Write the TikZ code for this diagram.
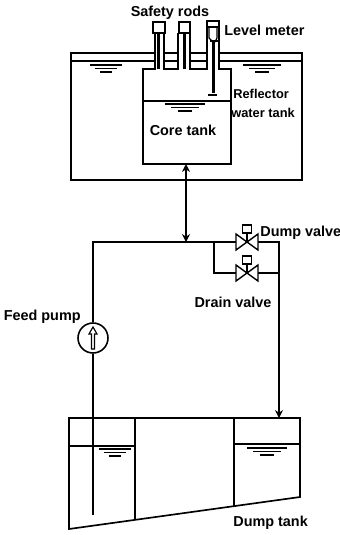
\documentclass[tikz,border=0pt]{standalone}
\usepackage{fontspec}
\setmainfont{Liberation Sans}
\usetikzlibrary{arrows.meta,calc}
\tikzset{
	lab/.style={font=\bfseries\fontsize{8.2}{10}\selectfont,inner sep=0pt},
	small lab/.style={font=\bfseries\fontsize{7.3}{10}\selectfont,inner sep=0pt},
	wall/.style={line width=0.95pt},
	thin wall/.style={line width=0.65pt},
	pipe/.style={line width=1.05pt},
	surf/.style={line width=0.6pt},
	valvebody/.style={line width=0.8pt,fill=white},
}
% one valve with its actuator, centre at (#1)
\newcommand{\valvesym}[1]{
	\draw[valvebody] (#1) -- ++(-11,-8) -- ++(0,16) -- cycle;
	\draw[valvebody] (#1) -- ++(11,-8) -- ++(0,16) -- cycle;
	\draw[thin wall] (#1) -- ++(0,-9);
	\draw[valvebody] ($(#1)+(-4.5,-17)$) rectangle ($(#1)+(4.5,-9)$);
}
% three water surface marks
\newcommand{\surfmarks}[3]{
	\draw[surf] (#1-#3,#2) -- (#1+#3,#2);
	\draw[surf] (#1-0.68*#3,#2+3.5) -- (#1+0.68*#3,#2+3.5);
	\draw[surf] (#1-0.36*#3,#2+7) -- (#1+0.36*#3,#2+7);
}
\begin{document}
\begin{tikzpicture}[x=0.02cm,y=-0.02cm,>={Stealth[length=4.5pt,width=4.5pt]}]
	\useasboundingbox (0,0) rectangle (339,535);
	% reflector water tank
	\draw[wall] (155,53)--(71,53)--(71,180)--(302,180)--(302,53)--(219,53);
	\draw[wall] (164,53)--(178,53) (190,53)--(207,53);
	\draw[thin wall] (71,61)--(155,61) (164,61)--(178,61) (190,61)--(207,61) (219,61)--(302,61);
	\surfmarks{106}{65}{16}
	\surfmarks{262}{65}{19}
	% core tank
	\draw[wall] (155,33)--(155,69)--(143,69)--(143,164)--(231,164)--(231,69)--(219,69)--(219,21);
	\draw[wall] (164,33)--(164,69)--(178,69)--(178,33);
	\draw[wall] (190,33)--(190,69)--(207,69)--(207,21);
	\draw[thin wall] (143,101)--(231,101);
	\surfmarks{185}{104}{20}
	% safety rods
	\draw[wall] (153,22) rectangle (165,33);
	\draw[wall] (179,22) rectangle (190,33);
	\draw[line width=1.6pt] (158.5,33)--(158.5,69);
	\draw[line width=1.6pt] (184.5,33)--(184.5,69);
	% level meter
	\draw[wall] (207,21) rectangle (219,27);
	\draw[thin wall] (209,27)--(209,38)--(213,42) (217,27)--(217,38)--(215,42);
	\draw[line width=1.1pt] (210,41)--(218,41);
	\draw[line width=1.5pt] (213.5,41)--(213.5,93);
	\draw[wall] (208,95)--(217,95);
	% pipes
	\coordinate (core) at (186,164);
	\coordinate (tee) at (186,242);
	\coordinate (corner) at (93,242);
	\coordinate (branch) at (214,242);
	\coordinate (branchlow) at (214,273);
	\coordinate (dumpv) at (247,242);
	\coordinate (drainv) at (247,273);
	\coordinate (joint) at (279,242);
	\coordinate (jointlow) at (279,273);
	\coordinate (inlet) at (279,418);
	\coordinate (suction) at (93,515);
	\node[circle,draw,line width=0.9pt,minimum size=0.6cm,inner sep=0pt] (pump) at (93,338) {};
	\draw[pipe,<->] (core)--(tee);
	\draw[pipe] (pump.north)--(corner)--(dumpv);
	\draw[pipe] (branch)--(branchlow)--(drainv);
	\draw[pipe] (dumpv)--(joint)--(jointlow);
	\draw[pipe] (drainv)--(jointlow);
	\draw[pipe,->] (jointlow)--(inlet);
	\draw[pipe] (pump.south)--(suction);
	\valvesym{dumpv}
	\valvesym{drainv}
	% arrow inside the pump
	\draw[thin wall] (91.5,349)--(91.5,334)--(89,334)--(93,327)--(97,334)--(94.5,334)--(94.5,349)--cycle;
	% dump tank
	\draw[wall] (69,418)--(300,418)--(300,497)--(69,529)--cycle;
	\draw[wall] (135,418)--(135,520);
	\draw[thin wall] (234,418)--(234,506);
	\draw[wall] (69,446)--(135,446) (234,444)--(300,444);
	\surfmarks{115}{449}{16}
	\surfmarks{267}{448}{20}
	% labels
	\node[lab] (rods) at (170,13) {Safety rods};
	\node[lab,anchor=west] (meter) at (224,30) {Level meter};
	\node[small lab,anchor=west] (refl) at (233,94) {Reflector};
	\node[small lab,anchor=west] (reflb) at (231,113) {water tank};
	\node[lab] (coretank) at (183,130) {Core tank};
	\node[lab,anchor=west] (dumpl) at (260,233) {Dump valve};
	\node[lab] (drainl) at (233,302) {Drain valve};
	\node[lab,anchor=east] (feed) at (81,317) {Feed pump};
	\node[lab,anchor=west] (tank) at (233,523) {Dump tank};
\end{tikzpicture}
\end{document}
